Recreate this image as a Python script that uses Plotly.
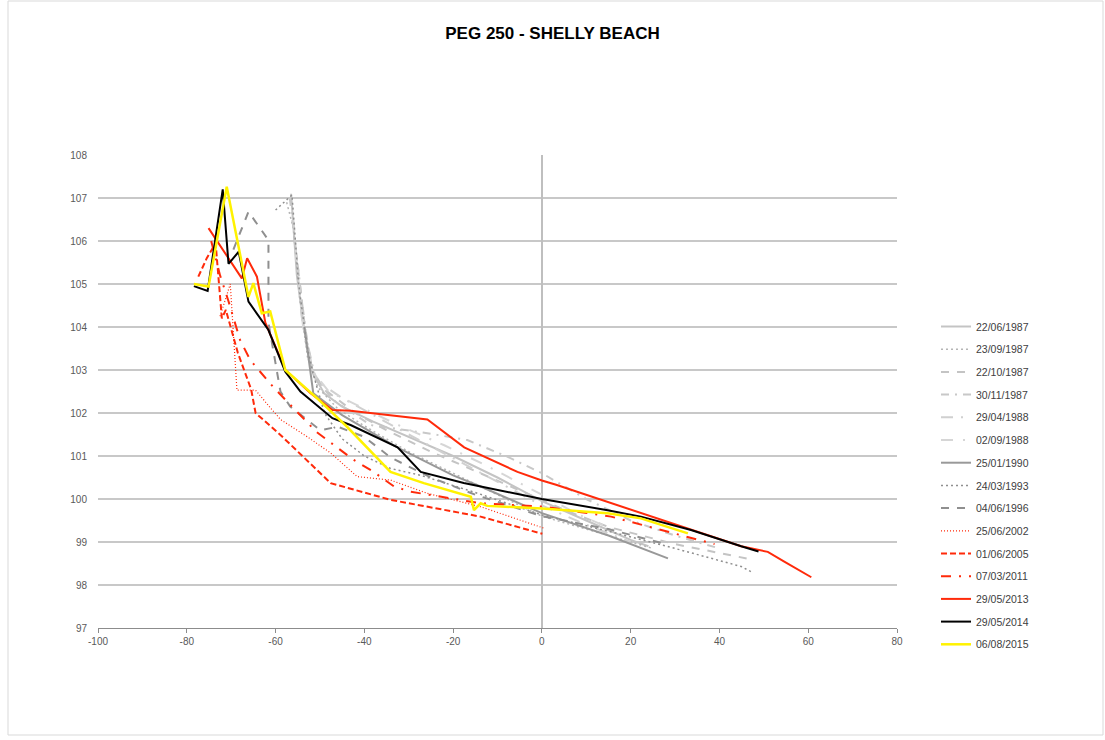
import plotly.graph_objects as go

# ---------------- data ----------------
names = ["22/06/1987", "23/09/1987", "22/10/1987", "30/11/1987", "29/04/1988",
         "02/09/1988", "25/01/1990", "24/03/1993", "04/06/1996", "25/06/2002",
         "01/06/2005", "07/03/2011", "29/05/2013", "29/05/2014", "06/08/2015"]

x_ticks = [-100, -80, -60, -40, -20, 0, 20, 40, 60, 80]
x_tick_labels = ["-100", "-80", "-60", "-40", "-20", "0", "20", "40", "60", "80"]

x_1987a = [-56.5, -55.2, -53.5, -51.5, -49, -45, -38, -30, -20, -10, 0, 10, 20, 24]
y_1987a = [107.1, 105.2, 103.9, 102.9, 102.45, 102.15, 101.8, 101.45, 101.0, 100.5, 99.95, 99.5, 99.05, 98.9]

x_1987b = [-57.5, -56.0, -54.5, -52.8, -50.5, -46, -40, -30, -20, -10, 0, 10, 20, 25]
y_1987b = [106.9, 106.3, 104.6, 103.3, 102.6, 102.1, 101.7, 101.1, 100.6, 100.1, 99.6, 99.3, 99.0, 98.85]

x_1987c = [-55.8, -53.5, -51.8, -49, -42, -35, -25, -15, -5, 5, 15, 30, 47]
y_1987c = [106.1, 104.1, 103.0, 102.55, 102.0, 101.6, 101.1, 100.65, 100.2, 99.75, 99.35, 98.95, 98.6]

x_1987d = [-56.8, -55, -53, -51, -47, -38.6, -25.8, -16.8, -7.7, 0, 10, 20, 30, 40]
y_1987d = [107.0, 105.5, 103.7, 102.8, 102.3, 101.72, 101.53, 101.37, 100.98, 100.6, 100.0, 99.5, 99.15, 98.85]

x_1988a = [-56, -54.2, -52.3, -50, -45, -38, -30, -20, -10, 0, 10, 20]
y_1988a = [106.5, 104.3, 103.1, 102.7, 102.35, 101.95, 101.5, 100.95, 100.4, 99.85, 99.4, 99.0]

x_1988b = [-55.5, -53.8, -51.5, -48, -42, -33, -22, -12, 0, 8, 18]
y_1988b = [105.8, 104.0, 102.95, 102.5, 102.2, 101.75, 101.25, 100.75, 100.1, 99.65, 99.2]

x_1990 = [-53.5, -51.5, -45, -32.6, -20, -13.8, 0, 15, 28.4]
y_1990 = [104.0, 102.46, 101.95, 101.2, 100.55, 100.29, 99.67, 99.15, 98.62]

x_1993 = [-60, -56.3, -54.8, -53, -51.5, -49, -45, -40, -34.1, -27.3, -15, 0, 15, 30, 44.9, 47.5]
y_1993 = [106.72, 107.07, 105.0, 103.6, 102.9, 102.0, 101.4, 101.0, 100.71, 100.55, 100.15, 99.63, 99.25, 98.85, 98.43, 98.29]

x_1996 = [-69.5, -66.1, -61.6, -61.6, -58.9, -56.7, -52.9, -49.9, -46, -40.1, -34, -25, -15, 0, 15, 28]
y_1996 = [105.8, 106.68, 106.02, 104.1, 102.5, 102.15, 101.84, 101.6, 101.68, 101.45, 100.96, 100.5, 100.1, 99.6, 99.3, 98.95]

x_2002 = [-72.5, -70.2, -68.7, -64.5, -61, -58.9, -52.9, -47.6, -41.6, -34.1, -25.8, -13.8, 0.5]
y_2002 = [104.25, 105.0, 102.53, 102.53, 102.1, 101.85, 101.45, 101.07, 100.52, 100.44, 100.13, 99.82, 99.32]

x_2005 = [-77.4, -75.5, -73.5, -72.1, -71.2, -68.5, -65.5, -64.5, -58.9, -47.6, -34.1, -13.8, 0.1]
y_2005 = [105.17, 105.6, 105.95, 104.2, 104.4, 103.4, 102.55, 102.0, 101.49, 100.37, 99.98, 99.59, 99.19]

x_2011 = [-74.5, -72.5, -70.6, -68, -65.7, -60.5, -50.8, -42.4, -37.9, -33.3, -29.6, -13.8, 0.5, 15.6, 38.9]
y_2011 = [106.0, 105.2, 104.6, 103.7, 103.23, 102.6, 101.56, 100.91, 100.63, 100.29, 100.17, 99.9, 99.82, 99.59, 98.95]

x_2013 = [-75.1, -67.6, -66.4, -64.2, -62.3, -57.8, -52.1, -47.2, -43.1, -25.8, -17.5, -5.5, 0, 3.2, 44.9, 50.9, 54.7, 60.7]
y_2013 = [106.3, 105.13, 105.6, 105.17, 104.1, 103.0, 102.46, 102.07, 102.05, 101.85, 101.2, 100.63, 100.43, 100.33, 98.9, 98.77, 98.54, 98.18]

x_2014 = [-78.4, -75.3, -71.9, -70.6, -68.3, -66.1, -61.6, -57.8, -54.4, -47.2, -43.1, -32.5, -27.3, -17.6, 0, 14.8, 22.3, 33.6, 44.9, 48.8]
y_2014 = [104.95, 104.84, 107.2, 105.47, 105.75, 104.59, 103.93, 102.96, 102.5, 101.88, 101.72, 101.2, 100.63, 100.37, 100.0, 99.74, 99.59, 99.28, 98.9, 98.78]

x_2015 = [-78.4, -75.1, -71.0, -66.1, -65.0, -63.1, -61.2, -57.8, -50.6, -43.9, -34.1, -26.6, -16.0, -15.3, -13.8, -12.3, 0, 14.8, 22.3, 32.9]
y_2015 = [105.0, 104.94, 107.26, 104.7, 105.02, 104.32, 104.36, 103.0, 102.34, 101.68, 100.63, 100.37, 100.05, 99.74, 99.9, 99.84, 99.78, 99.67, 99.55, 99.2]

xs = [x_1987a, x_1987b, x_1987c, x_1987d, x_1988a, x_1988b, x_1990, x_1993, x_1996,
      x_2002, x_2005, x_2011, x_2013, x_2014, x_2015]
ys = [y_1987a, y_1987b, y_1987c, y_1987d, y_1988a, y_1988b, y_1990, y_1993, y_1996,
      y_2002, y_2005, y_2011, y_2013, y_2014, y_2015]

# ---------------- styles ----------------
RED = "#ff2a0a"
styles = [
    dict(color="#c4c4c4", width=2, dash="solid"),
    dict(color="#b5b5b5", width=1.5, dash="2px,3px"),
    dict(color="#c4c4c4", width=2, dash="8px,8px"),
    dict(color="#c8c8c8", width=2, dash="8px,6px,2px,6px"),
    dict(color="#d0d0d0", width=2, dash="12px,8px,2px,8px"),
    dict(color="#d6d6d6", width=2, dash="12px,10px,2px,10px"),
    dict(color="#999999", width=2, dash="solid"),
    dict(color="#8f8f8f", width=1.5, dash="2px,3px"),
    dict(color="#8f8f8f", width=2, dash="8px,8px"),
    dict(color=RED, width=1.2, dash="1px,2px"),
    dict(color=RED, width=2, dash="6px,3px"),
    dict(color=RED, width=2, dash="10px,8px,2px,8px"),
    dict(color=RED, width=2, dash="solid"),
    dict(color="#000000", width=2, dash="solid"),
    dict(color="#fff200", width=2.5, dash="solid"),
]

fig = go.Figure()
for n, x, y, s in zip(names, xs, ys, styles):
    fig.add_trace(go.Scatter(x=x, y=y, mode="lines", name=n, legendgroup=n,
                             line=s, hoverinfo="skip"))

W, H = 1105, 740
L, R, T, B = 98, 208, 155, 112
pw, ph = W - L - R, H - T - B

def px_x(p):
    return (p - L) / pw

def px_y(p):
    return (H - B - p) / ph

fig.update_layout(
    width=W, height=H,
    margin=dict(l=L, r=R, t=T, b=B, pad=0),
    paper_bgcolor="white", plot_bgcolor="white",
    title=dict(text="<b>PEG 250 - SHELLY BEACH</b>", x=0.5, xanchor="center",
               y=1 - 33 / H, yanchor="middle",
               font=dict(family="Liberation Sans, Arial", size=17, color="#000000")),
    font=dict(family="Liberation Sans, Arial", size=10, color="#595959"),
    showlegend=True,
    legend=dict(x=px_x(936), xanchor="left", y=px_y(312), yanchor="top",
                tracegroupgap=3.7, font=dict(size=10.5, color="#404040"),
                bgcolor="rgba(0,0,0,0)", itemwidth=30),
    xaxis=dict(range=[-100, 80], tickvals=x_ticks, ticktext=x_tick_labels,
               showgrid=False,
               zeroline=True, zerolinecolor="#bfbfbf", zerolinewidth=1.5,
               showline=True, linecolor="#8c8c8c", linewidth=1,
               ticks="outside", ticklen=4, tickcolor="#8c8c8c",
               tickfont=dict(size=10, color="#595959")),
    yaxis=dict(range=[97, 108], dtick=1, tick0=97, showgrid=True,
               gridcolor="#c8c8c8", gridwidth=1.5, zeroline=False,
               showline=False, ticks="", ticklabelstandoff=10,
               tickfont=dict(size=10, color="#595959")),
    shapes=[dict(type="rect", xref="paper", yref="paper",
                 x0=px_x(8), x1=px_x(1103), y0=px_y(735), y1=px_y(1),
                 line=dict(color="#d9d9d9", width=1), layer="below")],
)

fig.write_html("out.html")
